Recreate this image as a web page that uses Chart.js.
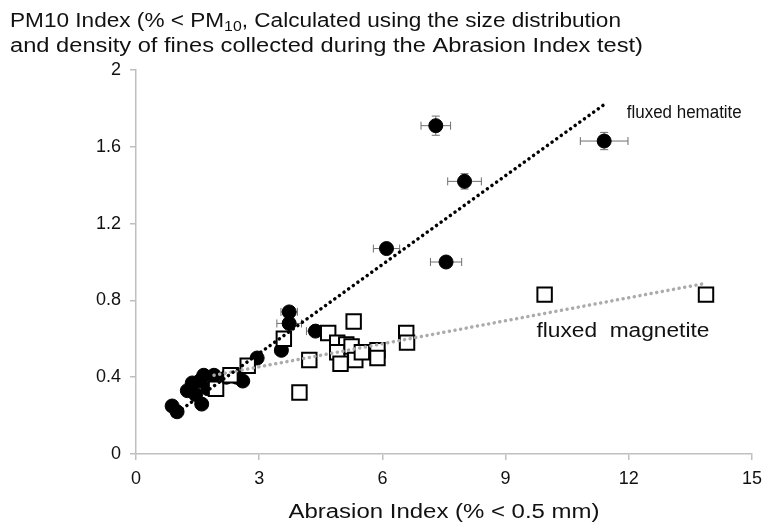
<!DOCTYPE html>
<html>
<head>
<meta charset="utf-8">
<script src="https://cdn.jsdelivr.net/npm/chart.js@4"></script>
<style>
  html, body { margin: 0; padding: 0; background: #fff; }
  #wrap { width: 771px; height: 532px; }
</style>
</head>
<body>
<div id="wrap"><canvas id="c" width="771" height="532"></canvas></div>
<script>
// Fluxed hematite pellets (filled circles) with measurement spread
const hematiteX = [7.3, 11.4, 8.0, 6.1, 7.55, 3.73, 3.73, 4.37, 3.54, 2.95, 2.45, 2.6, 2.2, 1.9, 1.65, 1.55, 1.37, 1.25, 1.45, 1.75, 1.6, 0.88, 1.0];
const hematiteY = [1.71, 1.63, 1.42, 1.07, 1.0, 0.74, 0.68, 0.64, 0.54, 0.50, 0.40, 0.38, 0.40, 0.41, 0.41, 0.38, 0.37, 0.33, 0.31, 0.34, 0.26, 0.25, 0.22];
const hematiteErrX = [0.36, 0.58, 0.41, 0.32, 0.38, 0.2, 0.3, 0.22, 0.15, 0.1, 0.1, 0.1, 0.1, 0.1, 0.1, 0.1, 0.1, 0.1, 0.1, 0.1, 0.1, 0.1, 0.1];
const hematiteErrY = [0.05, 0.045, 0.04, 0.02, 0.02, 0.02, 0.02, 0.02, 0.02, 0.01, 0.01, 0.01, 0.01, 0.01, 0.01, 0.01, 0.01, 0.01, 0.01, 0.01, 0.01, 0.01, 0.01];

// Fluxed magnetite pellets (open squares)
const magnetiteX = [1.95, 2.3, 2.72, 3.6, 3.98, 4.22, 4.68, 5.3, 4.9, 5.12, 4.9, 5.25, 4.98, 5.34, 5.5, 5.88, 5.88, 6.58, 6.6, 9.95, 13.88];
const magnetiteY = [0.34, 0.41, 0.46, 0.60, 0.32, 0.49, 0.63, 0.69, 0.58, 0.57, 0.53, 0.56, 0.47, 0.49, 0.53, 0.54, 0.50, 0.63, 0.58, 0.83, 0.83];

// Linear trend lines (end points)
const hematiteTrendX = [0.9, 11.4];
const hematiteTrendY = [0.2, 1.82];
const magnetiteTrendX = [1.9, 13.9];
const magnetiteTrendY = [0.41, 0.89];

// Axis ticks
const xTicks = [0, 3, 6, 9, 12, 15];
const yTicks = [0, 0.4, 0.8, 1.2, 1.6, 2];

const FONT = '"Liberation Sans", Arial, sans-serif';
const AXIS_GRAY = '#bfbfbf';

const pts = (xs, ys) => xs.map((x, i) => ({ x: x, y: ys[i] }));

// Draws a run of [text, font, baselineShift] pieces, stretched horizontally to a given width
function drawRun(ctx, pieces, left, baseline, width) {
  let natural = 0;
  pieces.forEach(([t, f]) => { ctx.font = f; natural += ctx.measureText(t).width; });
  const sx = width / natural;
  ctx.save();
  ctx.translate(left, baseline);
  ctx.scale(sx, 1);
  let cx = 0;
  pieces.forEach(([t, f, dy]) => {
    ctx.font = f;
    ctx.fillText(t, cx, dy || 0);
    cx += ctx.measureText(t).width;
  });
  ctx.restore();
}

// Horizontal/vertical error bars drawn under the markers
const errorBars = {
  id: 'errorBars',
  beforeDatasetsDraw(chart) {
    const { ctx, scales: { x, y } } = chart;
    ctx.save();
    ctx.strokeStyle = '#6f6f6f';
    ctx.lineWidth = 1;
    const cap = 4;
    hematiteX.forEach((vx, i) => {
      const px = x.getPixelForValue(vx);
      const py = y.getPixelForValue(hematiteY[i]);
      const x0 = x.getPixelForValue(vx - hematiteErrX[i]);
      const x1 = x.getPixelForValue(vx + hematiteErrX[i]);
      const y0 = y.getPixelForValue(hematiteY[i] - hematiteErrY[i]);
      const y1 = y.getPixelForValue(hematiteY[i] + hematiteErrY[i]);
      ctx.beginPath();
      ctx.moveTo(x0, py); ctx.lineTo(x1, py);
      ctx.moveTo(x0, py - cap); ctx.lineTo(x0, py + cap);
      ctx.moveTo(x1, py - cap); ctx.lineTo(x1, py + cap);
      ctx.moveTo(px, y0); ctx.lineTo(px, y1);
      ctx.moveTo(px - cap, y0); ctx.lineTo(px + cap, y0);
      ctx.moveTo(px - cap, y1); ctx.lineTo(px + cap, y1);
      ctx.stroke();
    });
    ctx.restore();
  }
};

// Axis headings and series labels beside the trend lines
const annotations = {
  id: 'annotations',
  afterDraw(chart) {
    const { ctx, scales: { x, y } } = chart;
    ctx.save();
    ctx.fillStyle = '#111';
    ctx.textBaseline = 'alphabetic';
    ctx.textAlign = 'left';

    const big = '20px ' + FONT;
    const small = '14px ' + FONT;
    drawRun(ctx, [['PM10 Index (% < PM', big, 0], ['10', small, 4], [', Calculated using the size distribution', big, 0]], 10, 27, 611);
    drawRun(ctx, [['and density of fines collected during the Abrasion Index test)', big, 0]], 10, 52, 633);

    // x-axis heading, centred under the plot
    const xTitleW = 311;
    const xc = (x.left + x.right) / 2;
    drawRun(ctx, [['Abrasion Index (% < 0.5 mm)', big, 0]], xc - xTitleW / 2, 518, xTitleW);

    drawRun(ctx, [['fluxed hematite', '18px ' + FONT, 0]], x.getPixelForValue(11.95), y.getPixelForValue(1.78) + 6, 115);
    drawRun(ctx, [['fluxed  magnetite', '20px ' + FONT, 0]], x.getPixelForValue(9.75), y.getPixelForValue(0.645) + 7, 173);
    ctx.restore();
  }
};

const axisCommon = {
  type: 'linear',
  grid: { display: true, drawOnChartArea: false, drawTicks: true, tickLength: 6, color: AXIS_GRAY, lineWidth: 1.5 },
  border: { display: true, color: AXIS_GRAY, width: 1.5 }
};

new Chart(document.getElementById('c'), {
  type: 'scatter',
  data: {
    datasets: [
      {
        label: 'hematite trend', type: 'line', showLine: true,
        data: pts(hematiteTrendX, hematiteTrendY),
        borderColor: '#000', borderWidth: 3.5, borderDash: [0.1, 5.6], borderCapStyle: 'round',
        pointRadius: 0, fill: false, order: 0
      },
      {
        label: 'magnetite trend', type: 'line', showLine: true,
        data: pts(magnetiteTrendX, magnetiteTrendY),
        borderColor: '#ababab', borderWidth: 3.5, borderDash: [0.1, 5.6], borderCapStyle: 'round',
        pointRadius: 0, fill: false, order: 0
      },
      {
        label: 'fluxed magnetite',
        data: pts(magnetiteX, magnetiteY),
        pointStyle: 'rect', pointRadius: 10.2, backgroundColor: '#fff', borderColor: '#000', borderWidth: 2,
        order: 1
      },
      {
        label: 'fluxed hematite',
        data: pts(hematiteX, hematiteY),
        pointStyle: 'circle', pointRadius: 7, backgroundColor: '#000', borderColor: '#000', borderWidth: 1,
        order: 2
      }
    ]
  },
  options: {
    responsive: false,
    animation: false,
    layout: { padding: { left: 0, right: 19, top: 70, bottom: 0 } },
    plugins: { legend: { display: false }, tooltip: { enabled: false } },
    scales: {
      x: Object.assign({}, axisCommon, {
        position: 'bottom', min: 0, max: 15,
        afterBuildTicks: s => { s.ticks = xTicks.map(v => ({ value: v })); },
        afterFit: s => { s.height = 78; },
        ticks: { font: { family: FONT, size: 18 }, color: '#111', padding: 8, maxRotation: 0 },
        title: { display: false }
      }),
      y: Object.assign({}, axisCommon, {
        position: 'left', min: 0, max: 2,
        afterBuildTicks: s => { s.ticks = yTicks.map(v => ({ value: v })); },
        afterFit: s => { s.width = 136; },
        ticks: { font: { family: FONT, size: 18 }, color: '#111', padding: 9, callback: v => String(v) }
      })
    }
  },
  plugins: [errorBars, annotations]
});
</script>
</body>
</html>
